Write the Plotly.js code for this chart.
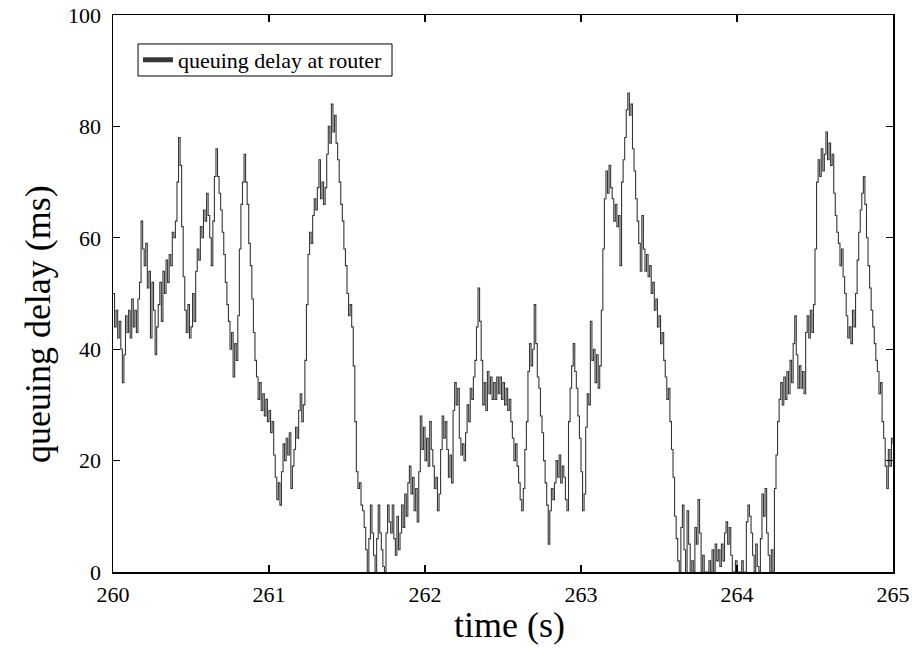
<!DOCTYPE html>
<html>
<head>
<meta charset="utf-8">
<script src="https://cdn.plot.ly/plotly-3.0.1.min.js"></script>
<style>html,body{margin:0;padding:0;background:#fff;}#chart{width:912px;height:658px;}</style>
</head>
<body>
<div id="chart"></div>
<script>
// sampling of the time axis (s)
const startTime = 260;
const sampleStep = 0.01;
// queuing delay at router (ms), one value per 10 ms sample
const delayMs = [
 50,44,47,42,45,40,34,39,46,43,
 47,42,49,44,47,43,49,52,63,58,
 55,59,51,54,42,52,47,39,44,48,
 52,45,54,50,56,52,57,55,61,60,
 63,70,78,73,62,53,47,43,48,42,
 44,50,45,54,58,56,62,60,65,63,
 68,64,60,55,63,71,76,71,68,65,
 61,57,52,48,45,40,43,35,41,38,
 46,58,66,70,75,70,66,59,55,49,
 43,38,35,31,34,29,32,28,31,27,
 29,25,27,21,17,13,16,12,18,23,
 20,24,21,25,15,19,22,26,24,29,
 32,27,30,38,48,57,61,59,64,67,
 65,69,74,67,70,66,69,75,80,77,
 84,79,82,77,74,70,66,63,58,55,
 50,46,48,44,37,27,18,15,16,12,
 11,8,4,0,6,12,7,3,0,6,
 12,7,4,1,0,7,12,9,7,12,
 6,3,10,4,7,12,8,14,10,16,
 19,14,17,11,15,9,18,28,22,26,
 20,24,19,27,22,19,15,17,11,14,
 22,28,24,27,22,17,21,16,29,34,
 30,33,24,21,23,20,25,30,27,33,
 31,35,38,44,51,45,38,30,34,29,
 36,32,35,31,34,31,35,32,35,31,
 34,30,33,29,31,27,24,20,23,19,
 16,13,11,15,22,27,36,41,37,40,
 48,41,35,33,28,25,20,16,12,5,
 11,15,13,16,20,17,21,16,19,17,
 13,11,27,33,37,41,36,33,28,24,
 18,11,14,26,32,30,45,38,40,34,
 39,33,37,47,58,67,72,68,73,69,
 67,63,66,62,64,55,70,74,78,83,
 86,82,84,76,72,67,63,59,54,64,
 58,54,57,53,55,50,52,47,49,44,
 46,41,43,38,35,31,33,27,22,17,
 10,6,2,0,8,12,4,0,11,5,
 0,2,0,8,5,13,7,0,3,0,
 0,0,2,0,4,0,5,2,4,1,
 5,2,7,9,5,8,3,0,0,2,
 0,0,0,2,0,0,9,12,10,7,
 3,0,5,1,0,6,14,10,15,7,
 3,0,4,0,15,21,27,31,34,30,
 35,31,36,32,38,34,41,46,39,33,
 37,33,36,32,43,46,42,47,43,48,
 58,70,74,71,76,72,75,79,74,77,
 73,75,68,64,61,59,55,58,53,50,
 46,42,44,41,47,44,50,56,61,65,
 68,71,66,60,55,51,47,44,41,38,
 36,32,34,27,24,19,15,22,19,24,
 23
];
const timeS = delayMs.map((_, i) => +(startTime + i * sampleStep).toFixed(2));

const xTicks = [260, 261, 262, 263, 264, 265];
const yTicks = [0, 20, 40, 60, 80, 100];
const seriesName = 'queuing delay at router';
const xTitle = 'time (s)';
const yTitle = 'queuing delay (ms)';

const serif = "Liberation Serif";

const traces = [
  {
    x: timeS, y: delayMs, type: 'scatter', mode: 'lines',
    line: {color: '#363636', width: 1.1, shape: 'hv'},
    showlegend: false, hoverinfo: 'skip'
  },
  {
    x: [null], y: [null], type: 'scatter', mode: 'lines',
    name: seriesName,
    line: {color: '#383838', width: 5},
    showlegend: true
  }
];

function axisBase() {
  return {
    showline: true, linecolor: '#000', linewidth: 1.5, mirror: 'ticks',
    ticks: 'inside', ticklen: 7, tickwidth: 1.2, tickcolor: '#000',
    showgrid: false, zeroline: false,
    tickfont: {family: serif, size: 22, color: '#000'}
  };
}

const layout = {
  width: 912, height: 658,
  margin: {l: 113, r: 19, t: 15, b: 86},
  paper_bgcolor: '#fff', plot_bgcolor: '#fff',
  font: {family: serif, color: '#000'},
  xaxis: Object.assign(axisBase(), {
    range: [260, 265], tickvals: xTicks, ticktext: xTicks.map(String),
    ticklabelstandoff: 2
  }),
  yaxis: Object.assign(axisBase(), {
    range: [0, 100], tickvals: yTicks, ticktext: yTicks.map(String),
    ticklabelstandoff: 6
  }),
  annotations: [
    {text: xTitle, xref: 'paper', yref: 'paper', x: 0.5077, y: -0.0952,
     xanchor: 'center', yanchor: 'middle', showarrow: false,
     font: {family: serif, size: 36, color: '#000'}},
    {text: yTitle, xref: 'paper', yref: 'paper', x: -0.0962, y: 0.445,
     xanchor: 'center', yanchor: 'middle', showarrow: false, textangle: -90,
     font: {family: serif, size: 36, color: '#000'}}
  ],
  legend: {
    x: 0.032, y: 0.957, xanchor: 'left', yanchor: 'top',
    bgcolor: 'rgba(0,0,0,0)', bordercolor: 'rgba(0,0,0,0)', borderwidth: 0,
    font: {family: serif, size: 22, color: '#000'},
    itemwidth: 30, tracegroupgap: 0
  },
  shapes: [{
    type: 'rect', xref: 'paper', yref: 'paper', layer: 'below',
    x0: 0.0321, x1: 0.3577, y0: 0.8905, y1: 0.948,
    line: {color: '#000', width: 1}, fillcolor: '#fff'
  }],
  showlegend: true
};

Plotly.newPlot('chart', traces, layout, {staticPlot: true, displayModeBar: false});
</script>
</body>
</html>
